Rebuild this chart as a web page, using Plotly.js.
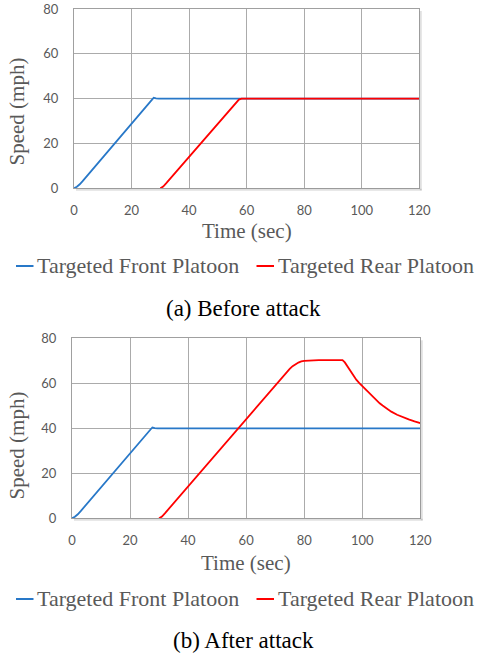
<!DOCTYPE html>
<html>
<head>
<meta charset="utf-8">
<script src="https://cdn.plot.ly/plotly-3.0.1.min.js"></script>
<style>html,body{margin:0;padding:0;background:#fff;}#chart{width:477px;height:655px;}</style>
</head>
<body>
<div id="chart"></div>
<script>
// ---- Data ----
const seriesNames = ["Targeted Front Platoon", "Targeted Rear Platoon"];
const captions = ["(a) Before attack", "(b) After attack"];
const xTickVals = [0, 20, 40, 60, 80, 100, 120];
const yTickVals = [0, 20, 40, 60, 80];

const frontTime = [0, 1, 2, 3, 27.2, 27.7, 28.5, 29.5, 120];
const frontSpeed = [0, 0.7, 1.8, 3.2, 39.7, 40.4, 40.1, 40, 40];

const rearTimeBefore = [30, 31, 32, 57.3, 58.2, 120];
const rearSpeedBefore = [0, 0.8, 2.2, 39.6, 40, 40];

const rearTimeAfter = [30, 31, 32, 40, 50, 60, 70, 74, 75, 76, 77, 78, 79, 80, 85, 93.2, 94, 95, 96, 97, 98, 99, 100, 101, 102, 103, 104, 105, 106, 107, 108, 110, 112, 114, 116, 118, 120];
const rearSpeedAfter = [0, 0.8, 2.2, 14.2, 29.2, 44.2, 59.2, 65, 66.4, 67.6, 68.5, 69.2, 69.7, 70, 70.3, 70.3, 69.3, 67.3, 65.1, 63.1, 61.5, 60.1, 58.8, 57.4, 56, 54.7, 53.4, 52.2, 51.1, 50.1, 49.2, 47.4, 46, 44.9, 44, 43.1, 42.3];

// ---- Styling ----
const W = 477, H = 655;
const BLUE = "#2878c8", RED = "#ff0000";
const GRAY = "#595959";
const px = x => x / W;
const py = y => 1 - y / H;

const panels = [
  {l: 74, r: 419.3, t: 9, b: 188.3, xt: 231, yt: 112, leg: 265, cap: 308},
  {l: 72, r: 420.3, t: 338.3, b: 518.3, xt: 563, yt: 446, leg: 598, cap: 640}
];

const traces = [
  {x: frontTime, y: frontSpeed, xaxis: "x", yaxis: "y", name: seriesNames[0], line: {color: BLUE, width: 1.8}},
  {x: rearTimeBefore, y: rearSpeedBefore, xaxis: "x", yaxis: "y", name: seriesNames[1], line: {color: RED, width: 1.8}},
  {x: frontTime, y: frontSpeed, xaxis: "x2", yaxis: "y2", name: seriesNames[0], line: {color: BLUE, width: 1.8}},
  {x: rearTimeAfter, y: rearSpeedAfter, xaxis: "x2", yaxis: "y2", name: seriesNames[1], line: {color: RED, width: 1.8}}
].map(t => Object.assign({type: "scatter", mode: "lines", showlegend: false, hoverinfo: "skip"}, t));

function xAxis(p, anchor) {
  return {
    domain: [px(p.l), px(p.r)], anchor: anchor, range: [0, 120], tickvals: xTickVals,
    showgrid: true, gridcolor: "#ababab", gridwidth: 1, zeroline: false,
    showline: true, linecolor: "#a0a0a0", linewidth: 1, mirror: true,
    ticks: "", ticklabelstandoff: 10,
    tickfont: {family: "Lato, 'Open Sans', sans-serif", size: 13, color: GRAY}
  };
}
function yAxis(p, anchor) {
  return {
    domain: [py(p.b), py(p.t)], anchor: anchor, range: [0, 80], tickvals: yTickVals,
    showgrid: true, gridcolor: "#ababab", gridwidth: 1, zeroline: false,
    showline: true, linecolor: "#a0a0a0", linewidth: 1, mirror: true,
    ticks: "", ticklabelstandoff: 12,
    tickfont: {family: "Lato, 'Open Sans', sans-serif", size: 13, color: GRAY}
  };
}

const serif = "'Liberation Serif', 'Times New Roman', serif";
const annotations = [];
const shapes = [];
panels.forEach((p, i) => {
  annotations.push({xref: "paper", yref: "paper", x: px((p.l + p.r) / 2), y: py(p.xt), text: "Time (sec)",
    showarrow: false, xanchor: "center", yanchor: "middle", borderpad: 0, font: {family: serif, size: 21, color: GRAY}});
  annotations.push({xref: "paper", yref: "paper", x: px(16.5), y: py(p.yt), text: "Speed (mph)", textangle: -90,
    showarrow: false, xanchor: "center", yanchor: "middle", borderpad: 0, font: {family: serif, size: 21, color: GRAY}});
  // legend (custom, matching short swatches)
  annotations.push({xref: "paper", yref: "paper", x: px(35.5), y: py(p.leg), text: seriesNames[0],
    showarrow: false, xanchor: "left", yanchor: "middle", borderpad: 0, font: {family: serif, size: 22, color: GRAY}});
  annotations.push({xref: "paper", yref: "paper", x: px(277), y: py(p.leg), text: seriesNames[1],
    showarrow: false, xanchor: "left", yanchor: "middle", borderpad: 0, font: {family: serif, size: 22, color: GRAY}});
  shapes.push({type: "line", xref: "paper", yref: "paper", x0: px(16), x1: px(33.5), y0: py(p.leg + 1), y1: py(p.leg + 1), line: {color: BLUE, width: 2}});
  shapes.push({type: "line", xref: "paper", yref: "paper", x0: px(256.5), x1: px(274), y0: py(p.leg + 1), y1: py(p.leg + 1), line: {color: RED, width: 2}});
  annotations.push({xref: "paper", yref: "paper", x: px(243), y: py(p.cap), text: captions[i],
    showarrow: false, xanchor: "center", yanchor: "middle", borderpad: 0, font: {family: serif, size: 23, color: "#000"}});
  // soft shadow of the plot frame
  shapes.push({type: "line", xref: "paper", yref: "paper", x0: px(p.r + 1.5), x1: px(p.r + 1.5), y0: py(p.t + 2), y1: py(p.b + 2), line: {color: "rgba(0,0,0,0.12)", width: 2}});
  shapes.push({type: "line", xref: "paper", yref: "paper", x0: px(p.l + 2), x1: px(p.r + 2.5), y0: py(p.b + 1.5), y1: py(p.b + 1.5), line: {color: "rgba(0,0,0,0.12)", width: 2}});
});

const layout = {
  width: W, height: H, margin: {l: 0, r: 0, t: 0, b: 0},
  paper_bgcolor: "#fff", plot_bgcolor: "#fff", showlegend: false,
  xaxis: xAxis(panels[0], "y"), yaxis: yAxis(panels[0], "x"),
  xaxis2: xAxis(panels[1], "y2"), yaxis2: yAxis(panels[1], "x2"),
  annotations: annotations, shapes: shapes
};

Plotly.newPlot("chart", traces, layout, {staticPlot: true, displayModeBar: false});
</script>
</body>
</html>
